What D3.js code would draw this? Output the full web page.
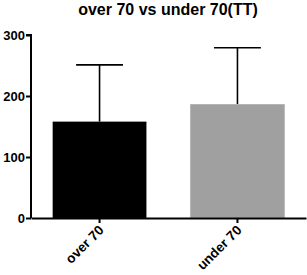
<!DOCTYPE html>
<html>
<head>
<meta charset="utf-8">
<script src="https://cdn.jsdelivr.net/npm/d3@7"></script>
<style>
  body { margin: 0; background: #fff; }
  text { font-family: "Liberation Sans", Arial, sans-serif; font-weight: bold; }
</style>
</head>
<body>
<div id="viz"></div>
<script>
const width = 307;
const height = 275;
const margin = {top: 35, right: 1, bottom: 57, left: 31};

// data
const groups = ['over 70', 'under 70'];
const means = [158, 186];
const sdUpper = [251, 279];
const barColors = ['#000000', '#a0a0a0'];
const yTicks = [0, 100, 200, 300];

const svg = d3.select('#viz')
  .append('svg')
  .attr('width', width)
  .attr('height', height);

const x = d3.scaleBand()
  .domain(groups)
  .range([margin.left, width - margin.right])
  .paddingInner(0.32)
  .paddingOuter(0.157);

const y = d3.scaleLinear()
  .domain([0, 300])
  .range([height - margin.bottom, margin.top]);

// title
svg.append('text')
  .attr('x', 168)
  .attr('y', 15)
  .attr('text-anchor', 'middle')
  .style('font-size', '16px')
  .text('over 70 vs under 70(TT)');

// error bars (upper only)
const err = svg.selectAll('.err')
  .data(groups)
  .join('g')
  .attr('class', 'err')
  .attr('stroke', '#000')
  .attr('stroke-width', 1.6);

err.append('line')
  .attr('x1', d => x(d) + x.bandwidth() / 2)
  .attr('x2', d => x(d) + x.bandwidth() / 2)
  .attr('y1', (d, i) => y(means[i]))
  .attr('y2', (d, i) => y(sdUpper[i]));

err.append('line')
  .attr('x1', d => x(d) + x.bandwidth() / 4)
  .attr('x2', d => x(d) + x.bandwidth() * 3 / 4)
  .attr('y1', (d, i) => y(sdUpper[i]))
  .attr('y2', (d, i) => y(sdUpper[i]));

// bars
svg.selectAll('.bar')
  .data(groups)
  .join('rect')
  .attr('class', 'bar')
  .attr('x', d => x(d))
  .attr('y', (d, i) => y(means[i]))
  .attr('width', x.bandwidth())
  .attr('height', (d, i) => y(0) - y(means[i]))
  .attr('fill', (d, i) => barColors[i])
  .attr('stroke', (d, i) => i === 1 ? '#b4b4b4' : 'none')
  .attr('stroke-width', 1);

// y axis
const yAxis = svg.append('g')
  .attr('transform', `translate(${margin.left},0)`)
  .call(d3.axisLeft(y).tickValues(yTicks).tickSize(5).tickPadding(1));
yAxis.select('.domain').attr('stroke-width', 2).attr('d', `M-5,${y(300)}H0V${y(0)}`);
yAxis.selectAll('.tick line').attr('stroke-width', 2);
yAxis.selectAll('.tick text').style('font-size', '13px').attr('fill', '#000');

// x axis
const xAxis = svg.append('g')
  .attr('transform', `translate(0,${y(0)})`)
  .call(d3.axisBottom(x).tickSize(5).tickSizeOuter(0));
xAxis.select('.domain').attr('stroke-width', 2);
xAxis.selectAll('.tick line').attr('stroke-width', 2);
xAxis.selectAll('.tick text')
  .style('font-size', '13.5px')
  .attr('fill', '#000')
  .attr('text-anchor', 'end')
  .attr('x', 0)
  .attr('y', 0)
  .attr('dy', null)
  .attr('transform', 'translate(5,13) rotate(-45)');
</script>
</body>
</html>
